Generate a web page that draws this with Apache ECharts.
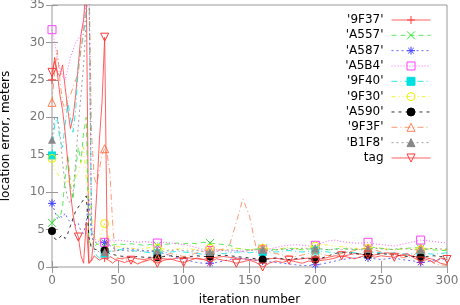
<!DOCTYPE html>
<html><head><meta charset="utf-8">
<script src="https://cdn.jsdelivr.net/npm/echarts/dist/echarts.min.js"></script>
<style>html,body{margin:0;padding:0;background:#fff}#c{width:460px;height:305px}</style>
</head><body><div id="c"></div>
<script>
// ---- data ----
const seriesNames = ["'9F37'", "'A557'", "'A587'", "'A5B4'", "'9F40'", "'9F30'", "'A590'", "'9F3F'", "'B1F8'", "tag"];
const xEarly = [0,2,4,6,8,10,12,14,16,18,20,22,24,26,28,30,32,34,36,38,40,42,44,46,48,50];
const xLate = [55,60,65,70,75,80,85,90,95,100,105,110,115,120,125,130,135,140,145,150,155,160,165,170,175,180,185,190,195,200,205,210,215,220,225,230,235,240,245,250,255,260,265,270,275,280,285,290,295,300];
const xTicks = [0, 50, 100, 150, 200, 250, 300];
const yTicks = [0, 5, 10, 15, 20, 25, 30, 35];

const y9F37 = [25,28,26,25.5,27,24,21,18.5,20,23,27,31,33,38,0.5,0.8,1.5,1.2,0.9,1.1,1.2,1.0,1.4,1.2,1.0,1.1,
  1.2,1.3,1.1,1.0,1.2,1.3,1.1,1.0,1.2,1.3, 1.2,1.1,1.0,1.2,1.3,1.4,1.3,1.2,1.1,1.0,
  0.9,1.0,1.1,1.2,1.0,0.9,1.0,1.1,1.2,1.0, 1.1,1.3,1.5,1.4,1.6,1.8,1.7,1.5,1.6,1.8,
  1.9,1.7,1.5,1.6,1.4,1.3,1.2,1.0,0.5,0.3];
const yA557 = [5.9,6.5,7,6.5,8,12,15,11,9,13,16,14,18,20,3.5,3,2.8,3,3.1,2.9,3.0,3.1,3.0,2.9,3.0,3.1,
  3.0,3.1,3.0,2.9,3.0,2.9,3.0,3.1,3.2,3.1, 3.2,3.1,3.3,3.2,3.1,3.0,2.9,2.5,2.4,2.3,
  2.4,2.5,2.4,2.3,2.4,2.5,2.4,2.3,2.4,2.5, 2.4,2.3,2.4,2.5,2.4,2.3,2.4,2.5,2.6,2.5,
  2.4,2.3,2.4,2.5,2.6,2.5,2.4,2.3,2.2,2.2];
const yA587 = [8.5,7.5,6.5,6.8,6.6,7.2,6.4,6.0,6.2,5.5,5.8,4.8,4.5,6,9,4,3.4,3.2,3.3,3.2,3.3,3.1,2.9,2.6,2.4,2.2,
  2.5,2.4,2.3,2.2,2.1,2.0,1.8,1.5,1.2,1.0, 0.8,0.6,0.5,0.5,0.6,0.8,1.0,1.2,1.1,1.0,
  0.9,0.8,0.7,0.6,0.5,0.4,0.3,0.2,0.2,0.3, 0.4,0.6,0.8,1.0,1.1,1.2,1.3,1.2,1.1,1.0,
  1.1,1.2,1.0,0.9,0.8,0.6,0.7,0.9,1.0,1.1];
const yA5B4 = [31.7,30,28,26.5,25.5,25,26.5,28,29,30,30.5,31,33,36,40,6,3.8,3.5,3.4,3.3,3.3,3.4,3.5,3.6,3.5,3.6,
  3.5,3.4,3.3,3.4,3.3,3.2,3.3,3.2,3.1,3.0, 2.8,2.6,2.3,2.2,2.3,2.2,2.1,2.2,2.1,2.2,
  2.3,2.3,2.4,2.6,2.8,2.9,3.0,2.9,2.8,2.9, 3.2,3.5,3.6,3.4,3.3,3.2,3.2,3.3,3.1,3.0,
  2.9,2.8,3.0,3.2,3.4,3.6,3.5,3.4,3.3,3.2];
const y9F40 = [14.9,19,20,17,16,19,22,20,18,21,27,29,31,34,40,5,2.2,1.5,1.2,1.5,1.8,2.0,2.1,2.2,2.2,2.3,
  2.3,2.2,2.1,2.0,1.9,1.8,1.9,2.0,2.1,2.0, 1.9,1.8,1.7,1.6,1.7,1.8,1.9,2.0,2.0,1.9,
  2.0,2.0,2.1,2.0,2.1,2.2,2.1,2.0,2.1,2.2, 2.1,2.0,1.9,1.9,2.0,1.9,1.8,1.9,2.0,1.9,
  1.8,1.9,1.8,1.7,1.8,1.7,1.8,1.7,1.8,1.9];
const y9F30 = [14.5,13,12.5,12,11.5,11.2,11.5,11,11.5,12,12.5,14,16,12,10,7,4,3,3.5,4.8,5.8,4.5,3.5,3.0,2.8,2.7,
  2.6,2.5,2.4,2.5,2.6,2.5,2.4,2.3,2.4,2.5, 2.4,2.3,2.4,2.5,2.4,2.3,2.4,2.5,2.4,2.3,
  2.4,2.5,2.4,2.3,2.5,2.6,2.5,2.4,2.6,2.8, 3.0,2.9,2.8,2.7,2.6,2.5,2.4,2.5,2.6,2.5,
  2.4,2.3,2.4,2.5,2.4,2.3,2.4,2.5,2.4,2.3];
const yA590 = [4.8,3.8,3.6,4.0,4.3,3.8,4.5,5.5,6.5,7.5,8,8.5,9,9.5,4,2.5,2.4,2.3,2.3,2.2,2.2,2.0,1.8,1.7,1.6,1.5,
  1.4,1.3,1.4,1.3,1.3,1.3,1.4,1.5,1.4,1.3, 1.4,1.5,1.4,1.4,1.5,1.6,1.5,1.4,1.3,1.2,
  1.1,1.0,1.1,1.2,1.1,1.0,1.1,1.2,1.1,1.0, 1.2,1.5,1.8,2.0,1.9,1.8,1.7,1.6,1.7,1.8,
  1.7,1.6,1.5,1.4,1.4,1.3,1.4,1.5,1.4,1.3];
const y9F3F = [22,26,29,25,22,21,22.5,23,24,25,26,29,32,35,40,18,12,11,13,15,15.8,15,12.5,6,1.5,1.2,
  1.0,0.8,0.5,0.7,1.0,1.2,1.5,1.8,1.6,1.4, 1.6,1.9,2.1,2.3,2.2,2.4,3.0,6.0,9.1,6.8,
  2.6,2.5,2.0,1.8,1.6,1.5,1.4,1.6,1.8,1.9, 1.7,1.5,1.6,1.8,2.0,2.2,2.4,2.5,2.3,2.0,
  1.8,1.5,1.3,1.2,1.6,2.5,1.2,0.5,0.3,0.2];
const yB1F8 = [17,20,20,18,14,11,9,8.5,10,14,19,23,27,33,40,5,2.5,2.2,2.0,2.0,2.0,2.1,2.2,2.1,2.2,2.2,
  2.2,2.1,2.2,2.1,2.2,2.2,2.1,2.2,2.3,2.2, 2.1,2.2,2.1,2.0,2.1,2.2,2.3,2.2,2.1,2.2,
  2.3,2.3,2.2,2.3,2.4,2.3,2.4,2.5,2.4,2.5, 2.4,2.3,2.4,2.3,2.4,2.4,2.3,2.4,2.5,2.4,
  2.3,2.4,2.5,2.4,2.3,2.3,2.4,2.5,2.4,2.4];
const yTag = [26,27.5,26,23,21,18,14,10,7,5,4,1.5,0.5,6,0.5,1,4,10,17,22,30.7,1.0,0.8,0.5,0.8,0.9,
  0.6,0.9,0.4,0.8,1.0,0.5,0.9,1.1,0.8,0.6, 0.9,1.2,1.0,0.7,1.1,0.9,0.8,0.5,0.7,0.9,
  0.6,0.0,0.5,0.8,0.6,0.9,0.7,0.5,0.8,0.7, 0.9,1.0,1.2,1.5,1.3,1.1,1.4,1.6,1.3,1.5,
  1.4,1.3,1.6,1.8,1.2,0.8,1.0,0.6,1.2,1.0];

// ---- styling ----
const FONT = 'DejaVu Sans';
const xs = xEarly.concat(xLate);
const PLUS = 'path://M5,0L5,10M0,5L10,5';
const CROSS = 'path://M0,0L10,10M10,0L0,10';
const STAR = 'path://M5,0L5,10M0,5L10,5M1.5,1.5L8.5,8.5M8.5,1.5L1.5,8.5';
const NONE = 'rgba(0,0,0,0)';
const styles = [
  {c:'#ff3a3a', sym:PLUS, fill:null, dash:'solid', every:40},
  {c:'#33e633', sym:CROSS, fill:null, dash:[5,4], every:40},
  {c:'#4040ff', sym:STAR, fill:null, dash:[2,3], every:40},
  {c:'#ff40ff', sym:'rect', fill:NONE, dash:[1,2], every:40},
  {c:'#00e0e0', sym:'rect', fill:'#00e0e0', dash:[6,3,1,3], every:40},
  {c:'#eeee00', sym:'circle', fill:NONE, dash:[4,3,1,3,1,3], every:40},
  {c:'#000000', sym:'circle', fill:'#000000', dash:[3,4], every:40},
  {c:'#ff7f50', sym:'triangle', fill:NONE, dash:[6,3,1,3], every:40},
  {c:'#888888', sym:'triangle', fill:'#888888', dash:[2,3], every:40},
  {c:'#ff3a3a', sym:'triangle', fill:NONE, dash:'solid', every:20, rot:180}
];
const ys = [y9F37, yA557, yA587, yA5B4, y9F40, y9F30, yA590, y9F3F, yB1F8, yTag];

function mk(yv, every) {
  return xs.map((x, i) => (x % every === 0) ? [x, yv[i]] : {value: [x, yv[i]], symbol: 'none'});
}

const series = seriesNames.map((n, i) => {
  const s = styles[i];
  const stroke = !s.fill || s.fill === NONE;
  return {
    name: n, type: 'line', silent: true, animation: false,
    data: mk(ys[i], s.every),
    symbol: s.sym, symbolSize: 8, symbolRotate: s.rot || 0, showSymbol: true,
    lineStyle: {color: s.c, width: 1, type: s.dash, opacity: 0.8},
    itemStyle: {color: s.fill ? s.fill : s.c, borderColor: s.c, borderWidth: stroke ? 1 : 0},
    z: 2 + i
  };
});

const axisCommon = {
  type: 'value', splitLine: {show: false},
  axisLine: {show: false},
  axisTick: {show: true, inside: true, length: 6, lineStyle: {color: '#999'}}
};

const chart = echarts.init(document.getElementById('c'), null, {renderer: 'canvas'});
chart.setOption({
  animation: false,
  backgroundColor: '#fff',
  grid: {left: 52, right: 13, top: 5, bottom: 38, show: true, borderColor: '#999', borderWidth: 1, backgroundColor: 'transparent', outerBoundsMode: 'none'},
  xAxis: [
    Object.assign({}, axisCommon, {position: 'bottom', min: 0, max: 300, interval: 50,
      name: 'iteration number', nameLocation: 'middle', nameGap: 27,
      nameTextStyle: {fontFamily: FONT, fontSize: 12, color: '#000'},
      axisLabel: {fontFamily: FONT, fontSize: 12, color: '#777', margin: 8}}),
    Object.assign({}, axisCommon, {position: 'top', min: 0, max: 300, interval: 50, axisLabel: {show: false}})
  ],
  yAxis: [
    Object.assign({}, axisCommon, {position: 'left', min: 0, max: 35, interval: 5,
      name: 'location error, meters', nameLocation: 'middle', nameGap: 40,
      nameTextStyle: {fontFamily: FONT, fontSize: 12, color: '#000'},
      axisLabel: {fontFamily: FONT, fontSize: 12, color: '#777', margin: 7}}),
    Object.assign({}, axisCommon, {position: 'right', min: 0, max: 35, interval: 5, axisLabel: {show: false}})
  ],
  legend: {
    orient: 'vertical', right: 29, top: 14, padding: 0, align: 'right',
    itemWidth: 39, itemHeight: 10, itemGap: 3.33, selectedMode: false,
    itemStyle: {borderWidth: 1},
    lineStyle: {width: 1},
    textStyle: {fontFamily: FONT, fontSize: 12, color: '#000', lineHeight: 10, padding: [0, 3, 0, 0]},
    data: seriesNames
  },
  series: series
});
</script>
</body></html>
